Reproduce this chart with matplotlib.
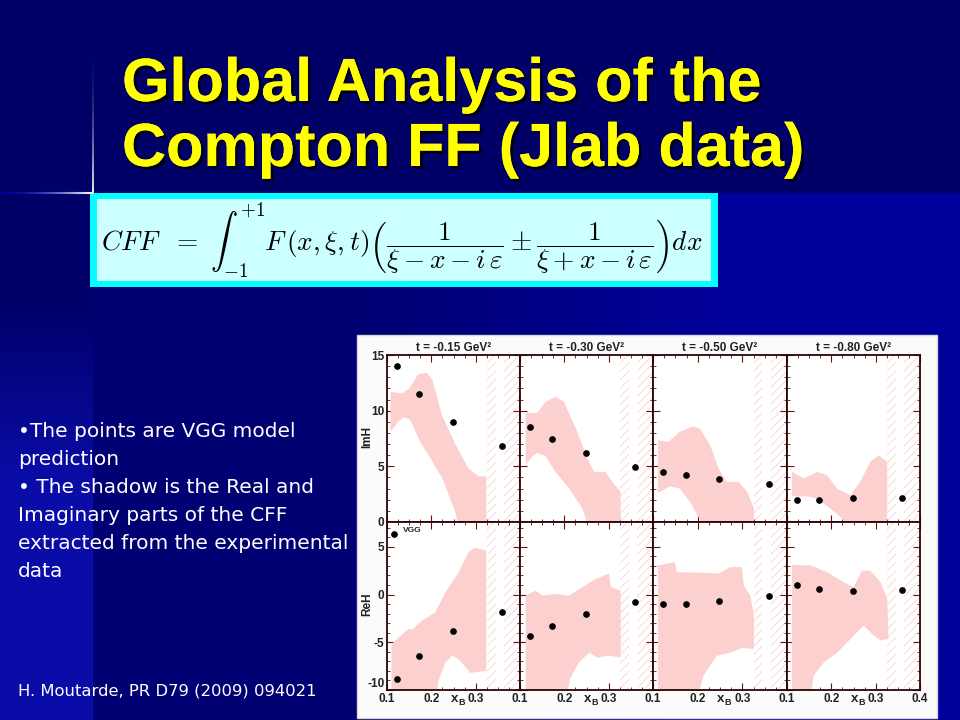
import numpy as np
import matplotlib.pyplot as plt
from matplotlib import patheffects
from matplotlib.collections import LineCollection
from matplotlib.patches import Rectangle
from matplotlib.ticker import MultipleLocator, AutoMinorLocator, FuncFormatter

plt.rcParams['mathtext.fontset'] = 'cm'
plt.rcParams['hatch.linewidth'] = 0.5

# values
t_labels = ['-0.15', '-0.30', '-0.50', '-0.80']
xb_vgg = [0.122, 0.173, 0.248, 0.359]
imh_vgg = [[14.0, 11.5, 9.0, 6.8],
           [8.55, 7.5, 6.2, 4.9],
           [4.45, 4.2, 3.85, 3.4],
           [1.95, 1.95, 2.15, 2.15]]
reh_vgg = [[-8.8, -6.4, -3.8, -1.8],
           [-4.3, -3.3, -2.0, -0.8],
           [-1.0, -1.0, -0.65, -0.1],
           [1.05, 0.6, 0.35, 0.5]]

# upper / lower edges of the extracted CFF band (x_B, value)
imh_hi = [
    [(0.108, 11.7), (0.134, 11.55), (0.15, 12.0), (0.171, 13.3), (0.19, 13.4), (0.202, 12.8),
     (0.224, 9.6), (0.254, 7.0), (0.284, 4.8), (0.307, 4.1), (0.324, 4.1)],
    [(0.113, 9.8), (0.139, 9.8), (0.158, 10.8), (0.18, 11.25), (0.199, 10.8), (0.226, 8.4),
     (0.252, 5.7), (0.267, 4.5), (0.293, 4.5), (0.308, 3.6), (0.327, 2.7)],
    [(0.111, 7.35), (0.134, 7.2), (0.16, 8.1), (0.19, 8.6), (0.205, 8.4), (0.228, 6.9),
     (0.247, 4.8), (0.265, 3.6), (0.292, 3.6), (0.311, 2.7), (0.326, 1.2)],
    [(0.111, 4.5), (0.138, 3.9), (0.168, 4.5), (0.19, 4.2), (0.213, 3.0), (0.243, 2.4),
     (0.265, 3.6), (0.288, 5.4), (0.307, 6.0), (0.326, 5.4)],
]
imh_lo = [
    [(0.108, 8.1), (0.125, 9.0), (0.137, 9.4), (0.152, 9.2), (0.175, 7.2), (0.2, 5.6),
     (0.225, 3.9), (0.254, 0.9), (0.265, -1.0), (0.324, -1.0)],
    [(0.113, 5.1), (0.128, 5.9), (0.139, 6.2), (0.158, 5.9), (0.18, 4.5), (0.211, 3.0),
     (0.241, 1.2), (0.259, -1.0), (0.327, -1.0)],
    [(0.111, 2.6), (0.138, 3.2), (0.16, 3.0), (0.183, 1.8), (0.205, 0.2), (0.215, -1.0),
     (0.326, -1.0)],
    [(0.111, 2.3), (0.145, 2.3), (0.168, 2.1), (0.198, 1.2), (0.228, 0.2), (0.24, -1.0),
     (0.326, -1.0)],
]
reh_hi = [
    [(0.11, -5.2), (0.126, -4.5), (0.149, -3.6), (0.156, -3.7), (0.179, -2.75), (0.209, -1.85),
     (0.232, 0.25), (0.262, 2.35), (0.284, 4.45), (0.299, 4.9), (0.324, 4.6)],
    [(0.113, -0.1), (0.135, 0.42), (0.15, -0.1), (0.18, 0.05), (0.211, -0.1), (0.241, 0.77),
     (0.271, 1.65), (0.301, 2.2), (0.305, 0.77), (0.327, 0.42)],
    [(0.111, 3.05), (0.149, 3.4), (0.153, 2.35), (0.198, 2.3), (0.247, 2.2), (0.273, 2.87),
     (0.299, 2.87), (0.303, 0.95), (0.318, -0.1), (0.326, -2.2)],
    [(0.111, 3.1), (0.153, 3.05), (0.19, 2.35), (0.228, 1.3), (0.25, 0.77), (0.269, 2.5),
     (0.288, 2.5), (0.311, 1.3), (0.326, -0.45), (0.329, -4.66)],
]
reh_lo = [
    [(0.11, -11.0), (0.209, -11.0), (0.217, -8.9), (0.232, -7.1), (0.247, -6.4), (0.262, -6.8),
     (0.288, -8.2), (0.324, -8.0)],
    [(0.113, -11.0), (0.203, -11.0), (0.214, -8.7), (0.233, -7.1), (0.256, -6.1), (0.274, -6.6),
     (0.301, -6.4), (0.327, -6.6)],
    [(0.111, -11.0), (0.198, -11.0), (0.213, -8.5), (0.243, -6.4), (0.273, -6.1), (0.30, -5.6),
     (0.326, -5.7)],
    [(0.111, -11.0), (0.153, -11.0), (0.16, -8.5), (0.183, -7.1), (0.213, -6.1), (0.243, -4.66),
     (0.273, -3.26), (0.296, -4.3), (0.311, -4.8), (0.329, -4.66)],
]
# x_B ranges without data (hatched)
hatch_spans = [(0.325, 0.345), (0.365, 0.40)]

bullet_lines = ['\u2022The points are VGG model', 'prediction', '\u2022 The shadow is the Real and',
                'Imaginary parts of the CFF', 'extracted from the experimental', 'data']

W, H = 960, 720
fig = plt.figure(figsize=(9.6, 7.2), dpi=100)

# slide background
yy, xx = np.mgrid[0:H, 0:W]
below = yy >= 193
f_left = np.clip((yy - 300) / 180.0, 0, 1)
f_right = np.clip((xx - 360) / 360.0, 0, 1)
img = np.zeros((H, W, 3))
img[..., 2] = 102
img[..., 2] = np.where(below & (xx >= 93), 114 + 40 * f_right, img[..., 2])
img[..., 2] = np.where(below & (xx < 93), 104 + 64 * f_left, img[..., 2])
img[..., 0] = np.where(below & (xx < 93), 10 * f_left, 0)
img[..., 1] = np.where(below & (xx < 93), 12 * f_left, 0)
img = img / 255.0

bg = fig.add_axes([0, 0, 1, 1])
bg.imshow(img, extent=[0, W, H, 0], aspect='auto', interpolation='bilinear')
bg.set_xlim(0, W)
bg.set_ylim(H, 0)
bg.axis('off')

# light flare lines
n = 60
ys = np.linspace(40, 193, n)
seg = [[(92.5, ys[k]), (92.5, ys[k + 1])] for k in range(n - 1)]
col = [(f, f, 0.4 + 0.6 * f) for f in np.linspace(0, 1, n - 1) ** 2]
bg.add_collection(LineCollection(seg, colors=col, linewidths=1.3))
xs = np.linspace(0, 92.5, n)
seg = [[(xs[k], 193), (xs[k + 1], 193)] for k in range(n - 1)]
col = [(f, f, 0.6 + 0.4 * f) for f in np.linspace(0, 1, n - 1) ** 2]
bg.add_collection(LineCollection(seg, colors=col, linewidths=1.5))

# title
shadow = [patheffects.withSimplePatchShadow(offset=(2.2, -2.2), shadow_rgbFace='black', alpha=0.7),
          patheffects.Normal()]
for k, line in enumerate(['Global Analysis of the', 'Compton FF (Jlab data)']):
    bg.text(122, 101 + 65 * k, line, color='#ffff00', fontsize=44, fontweight='bold',
            family='Liberation Sans', va='baseline', ha='left', path_effects=shadow)

# formula box
bg.add_patch(Rectangle((90, 193), 628, 94, facecolor='#00ffff', edgecolor='none'))
bg.add_patch(Rectangle((97, 199), 614, 82, facecolor='#ccffff', edgecolor='none'))
formula = (r'$CFF\ \ =\ \int_{-1}^{+1} F\,(x,\xi,t)\left(\dfrac{1}{\xi - x - i\,\varepsilon}'
           r' \pm \dfrac{1}{\xi + x - i\,\varepsilon}\right)dx$')
bg.text(101, 241, formula, fontsize=19.7, color='black', va='center', ha='left')

# text on the left
for k, line in enumerate(bullet_lines):
    bg.text(18, 437 + 28 * k, line, color='white', fontsize=14.5, family='DejaVu Sans',
            va='baseline', ha='left')
bg.text(18, 695, 'H. Moutarde, PR D79 (2009) 094021', color='white', fontsize=11.8,
        family='DejaVu Sans', va='baseline', ha='left')

# white area of the embedded figure
bg.add_patch(Rectangle((357, 335), 580, 383, facecolor='#fbfbfb', edgecolor='#d8d8d8', lw=1))


def frac(x0, y0, x1, y1):
    return [x0 / W, 1 - y1 / H, (x1 - x0) / W, (y1 - y0) / H]


cols = [387, 520, 653, 787, 920]
rows = [355, 522, 690]
frame = '#2a0505'
tickc = '#6a1010'
dark = '#222222'
lab = dict(fontsize=8.5, fontweight='bold', family='Liberation Sans', color=dark)

for r, (vgg, hi, lo) in enumerate([(imh_vgg, imh_hi, imh_lo), (reh_vgg, reh_hi, reh_lo)]):
    for i in range(4):
        ax = fig.add_axes(frac(cols[i], rows[r], cols[i + 1], rows[r + 1]))
        ax.set_facecolor('white')
        ax.set_xlim(0.1, 0.4)
        if r == 0:
            ax.set_ylim(0, 15)
        else:
            ax.set_ylim(-10, 7.6)
        for a, b in hatch_spans:
            ax.axvspan(a, b, facecolor='none', edgecolor='#f5cccc', hatch='////', lw=0, zorder=1)
        pts = hi[i] + lo[i][::-1]
        ax.fill([p[0] for p in pts], [p[1] for p in pts], color='#fdd0d0', lw=0, zorder=2)
        ax.plot(xb_vgg, vgg[i], 'o', color='black', ms=3.8, zorder=3)

        ax.xaxis.set_major_locator(MultipleLocator(0.1))
        ax.xaxis.set_minor_locator(AutoMinorLocator(4))
        ax.yaxis.set_major_locator(MultipleLocator(5))
        ax.yaxis.set_minor_locator(AutoMinorLocator(5))
        ax.tick_params(which='both', direction='in', top=True, right=True, colors=tickc,
                       labelcolor=dark, labelsize=8.5, pad=2)
        ax.tick_params(which='major', length=5, width=0.8)
        ax.tick_params(which='minor', length=2.5, width=0.6)
        for s in ax.spines.values():
            s.set_color(frame)
            s.set_linewidth(1.3)

        if r == 0:
            ax.set_xticklabels([])
            ax.set_title('t = ' + t_labels[i] + ' GeV\u00b2', fontsize=8.5, fontweight='bold',
                         family='Liberation Sans', color=dark, pad=3)
        else:
            if i < 3:
                ax.set_xticks([0.1, 0.2, 0.3])
            else:
                ax.set_xticks([0.1, 0.2, 0.3, 0.4])
            ax.text(0.535, -0.015, 'x', transform=ax.transAxes, fontsize=9.5, fontweight='bold',
                    family='Liberation Sans', ha='right', va='top', color=dark)
            ax.text(0.535, -0.05, 'B', transform=ax.transAxes, fontsize=6.5, fontweight='bold',
                    family='Liberation Sans', ha='left', va='top', color=dark)
        if i == 0 and r == 1:
            # lowest label drawn by hand, lifted a little above the 0.1 label
            ax.yaxis.set_major_formatter(FuncFormatter(lambda v, p: '' if v < -9.5 else '%g' % v))
            ax.text(-0.02, 0.0, '-10', transform=ax.transAxes, ha='right', va='bottom', **lab)
        for t in ax.get_xticklabels() + ax.get_yticklabels():
            t.set_fontweight('bold')
            t.set_family('Liberation Sans')
        if i == 0:
            ax.set_ylabel('ImH' if r == 0 else 'ReH', **lab)
            ax.yaxis.set_label_coords(-0.1, 0.51)
        else:
            ax.set_yticklabels([])
        if r == 1 and i == 0:
            ax.plot([0.05], [0.93], 'o', color='black', ms=3.8, transform=ax.transAxes)
            ax.text(0.12, 0.95, 'VGG', transform=ax.transAxes, fontsize=6, fontweight='bold',
                    family='Liberation Sans', color=dark, va='center')

fig.savefig('out.png', dpi=100)
